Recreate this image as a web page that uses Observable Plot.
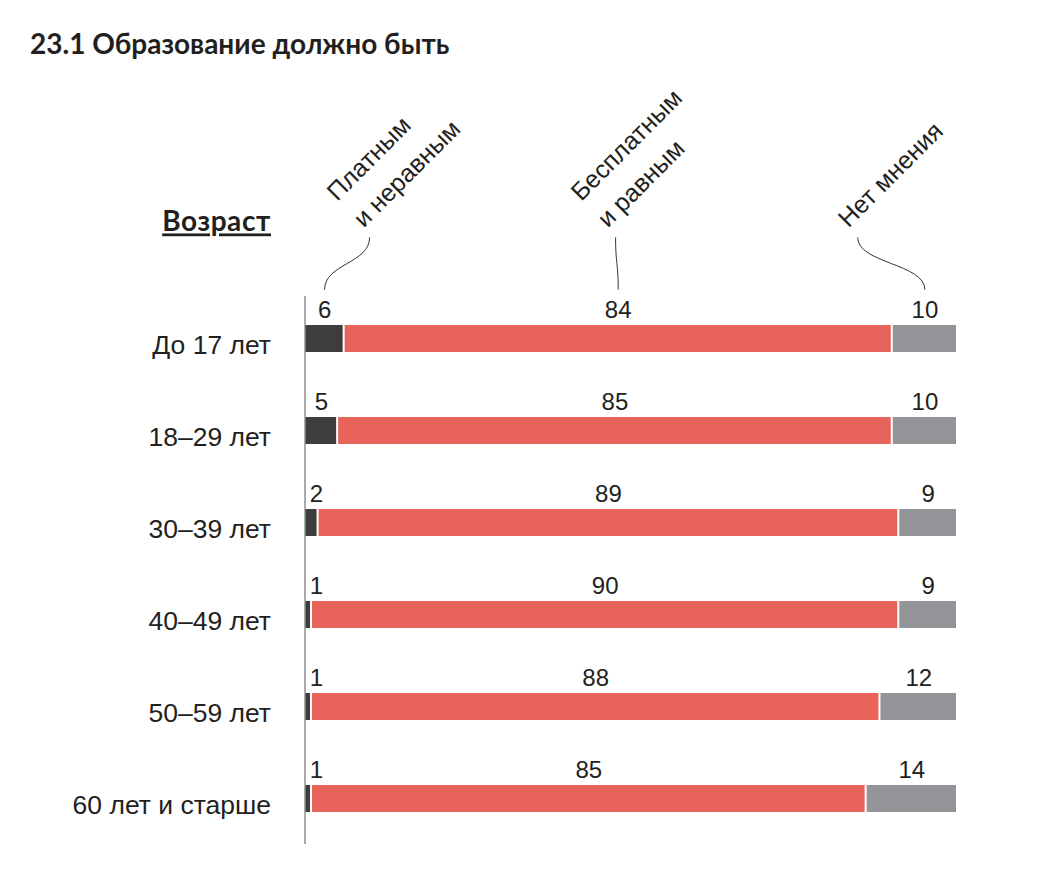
<!DOCTYPE html>
<html><head><meta charset="utf-8">
<script src="https://cdn.jsdelivr.net/npm/d3@7"></script>
<script src="https://cdn.jsdelivr.net/npm/@observablehq/plot@0.6"></script>
<style>
body{margin:0;background:#fff;}
#title{height:80px;box-sizing:border-box;padding:29px 0 0 30px;font:bold 28px/1 Lato,sans-serif;color:#231f20;}
#chart svg{display:block;}
</style></head><body>
<div id="title">23.1 Образование должно быть</div>
<div id="chart"></div>
<script>
// Data
const ages = ["До 17 лет", "18–29 лет", "30–39 лет", "40–49 лет", "50–59 лет", "60 лет и старше"];
const answers = ["Платным и неравным", "Бесплатным и равным", "Нет мнения"];
const headerLines = ["Платным\nи неравным", "Бесплатным\nи равным", "Нет мнения"];
const paid = [6, 5, 2, 1, 1, 1];
const free = [84, 85, 89, 90, 88, 85];
const noOpinion = [10, 10, 9, 9, 12, 14];
const colors = ["#3d3d3d", "#e8645a", "#939598"];

// Table built from arrays (normalized stack per row)
const rows = [];
ages.forEach((age, i) => {
  const vals = [paid[i], free[i], noOpinion[i]];
  const total = d3.sum(vals);
  let acc = 0;
  vals.forEach((v, k) => {
    rows.push({age, i, k, answer: answers[k], value: v, x1: acc / total, x2: (acc + v) / total});
    acc += v;
  });
});

const barH = 27 / 92;
// header annotation layout (x in normalized units)
const first = rows.filter(d => d.i === 0);
const headers = answers.map((a, k) => ({
  label: headerLines[k],
  bottom: (first[k].x1 + first[k].x2) / 2,
  top: [0.099, 0.476, 0.847][k],
  textX: [0.09, 0.464, 0.833][k]
}));

const plot = Plot.plot({
  width: 1048,
  height: 793,
  marginLeft: 304.5,
  marginRight: 91,
  marginTop: 216,
  marginBottom: 30,
  style: {fontFamily: "'Liberation Sans', Arial, sans-serif", color: "#231f20", background: "white"},
  x: {domain: [0, 1], axis: null},
  y: {type: "linear", domain: [0, 6], range: [245, 797], axis: null},
  color: {domain: answers, range: colors},
  marks: [
    Plot.rect(rows, {x1: "x1", x2: "x2", y1: "i", y2: d => d.i + barH, fill: "answer", insetLeft: 1, insetRight: 1}),
    Plot.frame({anchor: "left", stroke: "#555", strokeWidth: 1}),
    Plot.text(rows, {
      x: d => d.k === 0 ? Math.max((d.x1 + d.x2) / 2, 0.0176) : (d.x1 + d.x2) / 2,
      y: "i", dy: -15, text: d => String(d.value), fontSize: 24, fill: "#231f20"
    }),
    Plot.text(ages, {x: () => 0, y: (d, i) => i + barH / 2, dx: -34, dy: 7, textAnchor: "end", fontSize: 26.5, fill: "#231f20"}),
    Plot.text(["Возраст"], {x: () => 0, y: () => -1.12, dx: -34, textAnchor: "end", fontSize: 28, fontWeight: "bold", fontFamily: "Lato, sans-serif", fill: "#231f20", className: "agehead"}),
    Plot.link(headers, {x1: "bottom", y1: () => -0.39, x2: "top", y2: () => -0.957, curve: "bump-y", stroke: "#333", strokeWidth: 1}),
    Plot.text(headers, {x: "textX", y: () => -1.054, text: "label", rotate: -45, textAnchor: "start", lineAnchor: "bottom", lineHeight: 1.5, fontSize: 25, fill: "#231f20"})
  ]
});
document.getElementById("chart").appendChild(plot);
d3.select(plot).selectAll(".agehead text").style("text-decoration", "underline").style("letter-spacing", "0.6px");
</script>
</body></html>
